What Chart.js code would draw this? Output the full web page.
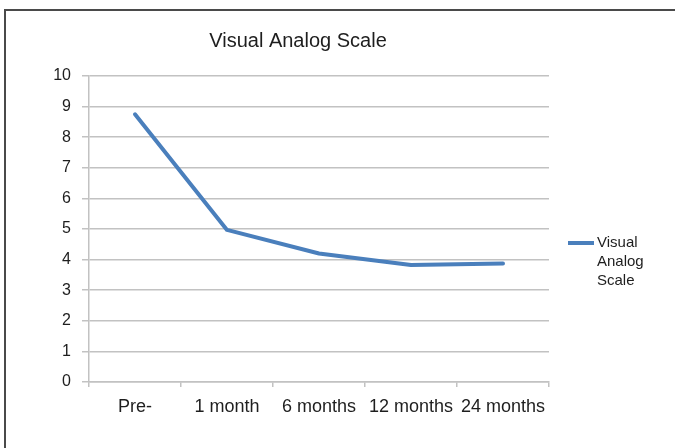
<!DOCTYPE html>
<html><head><meta charset="utf-8">
<script src="https://cdn.jsdelivr.net/npm/chart.js"></script>
<style>
html,body{margin:0;padding:0;background:#fff;}
#wrap{position:relative;width:675px;height:448px;overflow:hidden;background:#fff;}
#frame{position:absolute;left:4px;top:9px;width:720px;height:480px;border-top:2px solid #4a4a4a;border-left:2px solid #4a4a4a;box-sizing:border-box;pointer-events:none;}
canvas{position:absolute;left:0;top:0;}
</style></head><body>
<div id="wrap"><canvas id="c" width="675" height="448"></canvas><div id="frame"></div></div>
<script>
const categories = ['Pre-', '1 month', '6 months', '12 months', '24 months'];
const vasValues = [8.75, 4.97, 4.2, 3.82, 3.87];
const yTickValues = [0, 1, 2, 3, 4, 5, 6, 7, 8, 9, 10];
const seriesName = 'Visual Analog Scale';
const chartTitle = 'Visual Analog Scale';

const FONT = "'Liberation Sans', Arial, Helvetica, sans-serif";
const LINE_COLOR = '#4a7fbc';
const GRID = '#c2c2c2';

const titlePlugin = {
  id: 'customTitle',
  afterDraw(chart) {
    const ctx = chart.ctx;
    ctx.save();
    ctx.font = '20px ' + FONT;
    ctx.fillStyle = '#1e1e1e';
    ctx.textAlign = 'center';
    ctx.textBaseline = 'middle';
    ctx.fillText(chartTitle, 298, 41);
    ctx.restore();
  }
};

const legendPlugin = {
  id: 'customLegend',
  afterDraw(chart) {
    const ctx = chart.ctx;
    const ds = chart.data.datasets[0];
    const x0 = chart.chartArea.right + 19;
    const yMid = (chart.chartArea.top + chart.chartArea.bottom) / 2;
    const words = ds.label.split(' ');
    const lh = 19;
    const yStart = yMid + 14;
    ctx.save();
    ctx.strokeStyle = ds.borderColor;
    ctx.lineWidth = 4;
    ctx.beginPath();
    ctx.moveTo(x0, yStart);
    ctx.lineTo(x0 + 26, yStart);
    ctx.stroke();
    ctx.font = '15px ' + FONT;
    ctx.fillStyle = '#1e1e1e';
    ctx.textAlign = 'left';
    ctx.textBaseline = 'middle';
    words.forEach((w, i) => ctx.fillText(w, x0 + 29, yStart + i * lh));
    ctx.restore();
  }
};

new Chart(document.getElementById('c'), {
  type: 'line',
  data: {
    labels: categories,
    datasets: [{
      label: seriesName,
      data: vasValues,
      borderColor: LINE_COLOR,
      backgroundColor: LINE_COLOR,
      borderWidth: 4,
      pointRadius: 0,
      tension: 0,
      borderCapStyle: 'round',
      borderJoinStyle: 'round'
    }]
  },
  options: {
    responsive: false,
    animation: false,
    devicePixelRatio: 1,
    layout: { padding: { top: 76, right: 126, bottom: 26, left: 0 } },
    plugins: { legend: { display: false }, title: { display: false }, tooltip: { enabled: false } },
    scales: {
      x: {
        offset: true,
        grid: { offset: true, drawOnChartArea: false, drawTicks: true, tickLength: 5, color: GRID, lineWidth: 1.5 },
        border: { display: true, color: GRID, width: 1.5 },
        ticks: { font: { family: FONT, size: 18 }, color: '#1e1e1e', padding: 9, maxRotation: 0, autoSkip: false },
        afterFit(s) { s.height = 40; }
      },
      y: {
        min: 0, max: 10,
        afterBuildTicks(s) { s.ticks = yTickValues.map(v => ({ value: v })); },
        grid: { color: GRID, lineWidth: 1.5, tickLength: 7 },
        border: { display: true, color: GRID, width: 1.5 },
        ticks: { font: { family: FONT, size: 16 }, color: '#1e1e1e', padding: 11 },
        afterFit(s) { s.width = 89; }
      }
    }
  },
  plugins: [titlePlugin, legendPlugin]
});
</script>
</body></html>
